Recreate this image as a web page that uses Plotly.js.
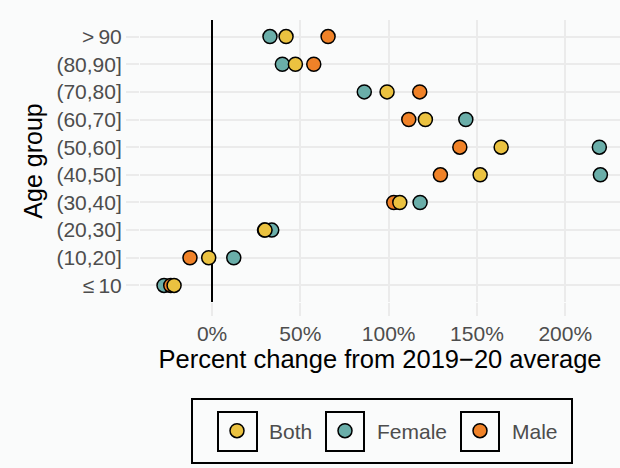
<!DOCTYPE html>
<html>
<head>
<meta charset="utf-8">
<script src="https://cdn.plot.ly/plotly-3.0.1.min.js"></script>
<style>
  html, body { margin: 0; padding: 0; background: #FAFBFB; }
  #chart { width: 620px; height: 468px; }
</style>
</head>
<body>
<div id="chart"></div>
<script>
// Age groups, bottom to top
const ageGroups = ["\u2264\u200910", "(10,20]", "(20,30]", "(30,40]", "(40,50]", "(50,60]", "(60,70]", "(70,80]", "(80,90]", ">\u200990"];
// Percent change from 2019-20 average, per age group (same order)
const femaleChange = [-27.2, 12.3, 33.8, 117.8, 219.9, 219.3, 143.7, 86.2, 39.8, 32.8];
const maleChange   = [-23.4, -12.5, 29.7, 102.9, 129.3, 140.3, 111.4, 117.6, 57.6, 65.7];
const bothChange   = [-21.5, -1.9, 30.0, 106.3, 151.8, 163.7, 120.8, 99.1, 47.2, 41.9];
const xTickVals = [0, 50, 100, 150, 200];
const xTickText = ["0%", "50%", "100%", "150%", "200%"];

const colors = { Both: "#EBC240", Female: "#6AAEA9", Male: "#F08228" };
const FONT = "Liberation Sans, Arial, sans-serif";

function trace(name, vals, rank, lw) {
  return {
    type: "scatter", mode: "markers", name: name,
    x: vals, y: ageGroups, legendrank: rank, legendwidth: lw,
    marker: { size: 14, color: colors[name], line: { color: "#000000", width: 1.5 } },
    cliponaxis: false, hoverinfo: "x+y+name"
  };
}

const data = [
  trace("Female", femaleChange, 2, 66),
  trace("Male", maleChange, 3, 50),
  trace("Both", bothChange, 1, 39)
];

// layout helpers: pixel -> paper
const L = 140, R = 620, T = 20, B = 302;
const px = v => (v - L) / (R - L);
const py = v => (B - v) / (B - T);
function box(x0, y0, x1, y1, w) {
  return { type: "rect", xref: "paper", yref: "paper",
    x0: px(x0), x1: px(x1), y0: py(y1), y1: py(y0),
    line: { color: "#000000", width: w }, fillcolor: "rgba(0,0,0,0)" };
}

const layout = {
  width: 620, height: 468,
  paper_bgcolor: "#FAFBFB", plot_bgcolor: "#FAFBFB",
  margin: { l: L, r: 620 - R, t: T, b: 468 - B },
  font: { family: FONT, color: "#4D4D4D" },
  xaxis: {
    range: [-40.8, 231], tickmode: "array", tickvals: xTickVals, ticktext: xTickText,
    showgrid: true, gridcolor: "#EBEBEB", gridwidth: 2,
    zeroline: true, zerolinecolor: "#000000", zerolinewidth: 2,
    ticks: "outside", ticklen: 13, tickwidth: 2, tickcolor: "#EBEBEB",
    tickfont: { size: 21, color: "#4D4D4D", family: FONT },
    showline: false, automargin: false,
    title: { text: "Percent change from 2019\u221220 average", font: { size: 25.5, color: "#000000", family: FONT }, standoff: 1 }
  },
  yaxis: {
    type: "category", categoryorder: "array", categoryarray: ageGroups,
    range: [-0.6, 9.6],
    showgrid: true, gridcolor: "#EBEBEB", gridwidth: 2,
    ticks: "outside", ticklen: 13, tickwidth: 2, tickcolor: "#EBEBEB",
    tickfont: { size: 21, color: "#4D4D4D", family: FONT },
    showline: false, automargin: false,
    title: { text: "Age group", font: { size: 25, color: "#000000", family: FONT }, standoff: 6 }
  },
  showlegend: true,
  legend: {
    orientation: "h", x: px(205), xanchor: "left", y: py(431), yanchor: "middle",
    bgcolor: "rgba(0,0,0,0)", borderwidth: 0, itemwidth: 54,
    font: { size: 21, color: "#4D4D4D", family: FONT },
    itemclick: false, itemdoubleclick: false
  },
  shapes: [
    box(192, 399, 572, 463, 2),
    box(218, 412, 257, 451, 2),
    box(326, 412, 364, 451, 2),
    box(461, 412, 499, 451, 2)
  ]
};

Plotly.newPlot("chart", data, layout, { displayModeBar: false, staticPlot: true });
</script>
</body>
</html>
